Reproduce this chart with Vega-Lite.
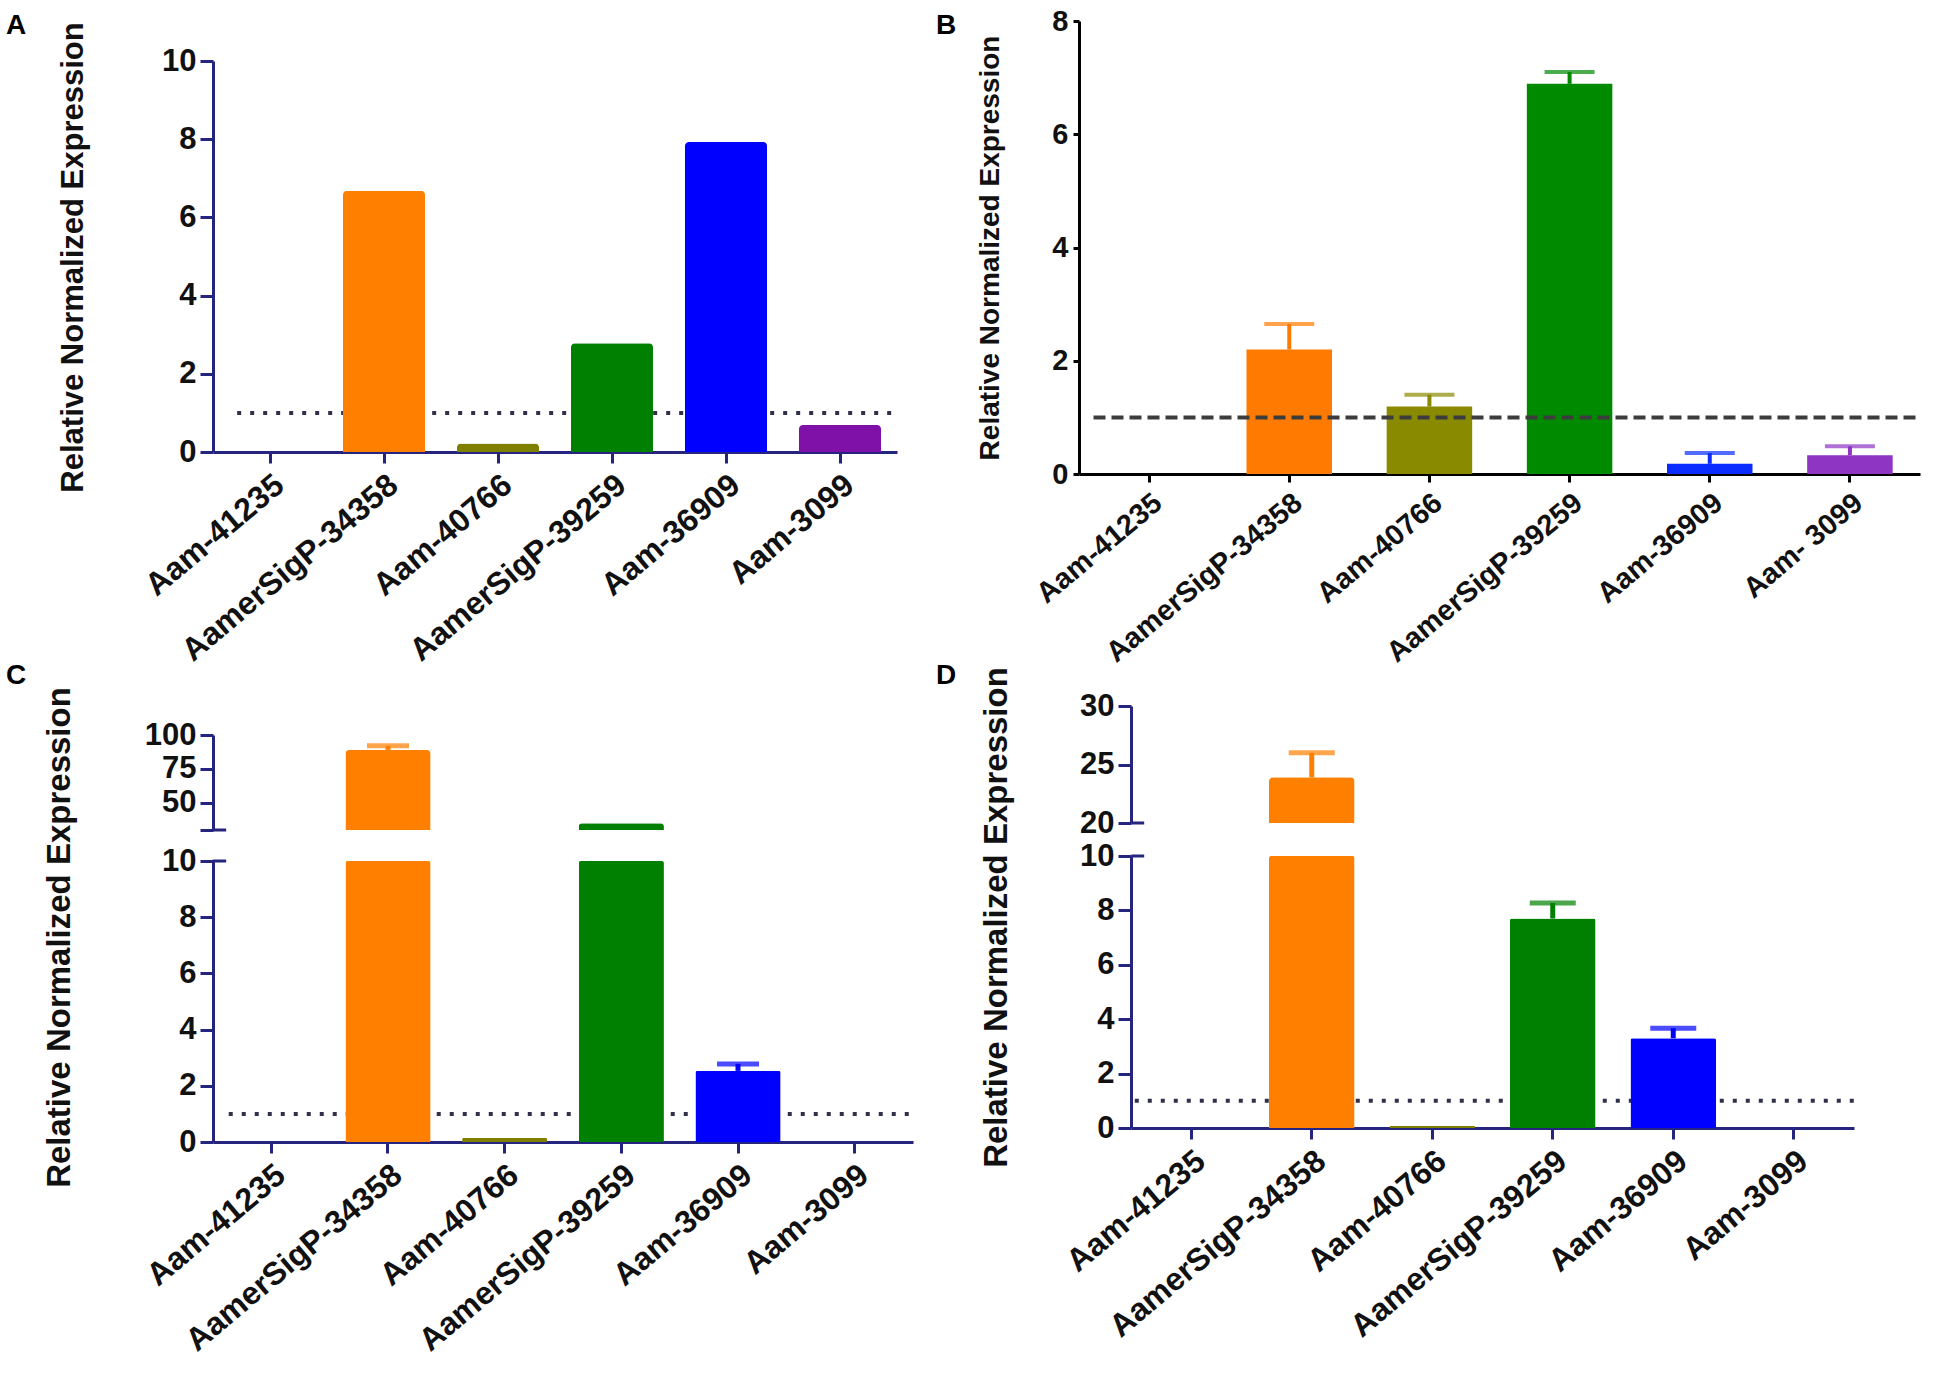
{
  "$schema": "https://vega.github.io/schema/vega-lite/v6.json",
  "padding": 0,
  "background": "#ffffff",
  "config": {
    "font": "Liberation Sans",
    "view": {"stroke": null},
    "axis": {
      "grid": false,
      "labelFont": "Liberation Sans",
      "titleFont": "Liberation Sans",
      "labelFontWeight": "bold",
      "titleFontWeight": "bold",
      "labelColor": "#111111",
      "titleColor": "#111111",
      "labelLimit": 500,
      "domainColor": "#25257f",
      "tickColor": "#25257f",
      "domainWidth": 3,
      "tickWidth": 3
    },
    "title": {"font": "Liberation Sans", "fontSize": 28, "fontWeight": "bold", "color": "#000000"}
  },
  "datasets": {
    "A": [
      {"gene": "Aam-41235", "v": 0},
      {"gene": "AamerSigP-34358", "v": 6.68},
      {"gene": "Aam-40766", "v": 0.22},
      {"gene": "AamerSigP-39259", "v": 2.78},
      {"gene": "Aam-36909", "v": 7.93},
      {"gene": "Aam-3099", "v": 0.69}
    ],
    "B": [
      {"gene": "Aam-41235", "v": 0, "e": null},
      {"gene": "AamerSigP-34358", "v": 2.2, "e": 2.65},
      {"gene": "Aam-40766", "v": 1.19, "e": 1.4},
      {"gene": "AamerSigP-39259", "v": 6.89, "e": 7.1},
      {"gene": "Aam-36909", "v": 0.18, "e": 0.37},
      {"gene": "Aam- 3099", "v": 0.33, "e": 0.49}
    ],
    "C": [
      {"gene": "Aam-41235", "v": 0, "e": null},
      {"gene": "AamerSigP-34358", "v": 89, "e": 92},
      {"gene": "Aam-40766", "v": 0.15, "e": null},
      {"gene": "AamerSigP-39259", "v": 35, "e": null},
      {"gene": "Aam-36909", "v": 2.53, "e": 2.78},
      {"gene": "Aam-3099", "v": 0, "e": null}
    ],
    "D": [
      {"gene": "Aam-41235", "v": 0, "e": null},
      {"gene": "AamerSigP-34358", "v": 23.9, "e": 26.0},
      {"gene": "Aam-40766", "v": 0.08, "e": null},
      {"gene": "AamerSigP-39259", "v": 7.7, "e": 8.27},
      {"gene": "Aam-36909", "v": 3.3, "e": 3.67},
      {"gene": "Aam-3099", "v": 0, "e": null}
    ]
  },
  "columns": 3,
  "align": "each",
  "bounds": "flush",
  "spacing": {"row": 0, "column": 166},
  "resolve": {"scale": {"color": "independent", "x": "independent", "y": "independent"}},
  "concat": [
    {"width": 47, "height": 21, "data": {"values": [{}]}, "mark": {"type": "point", "opacity": 0, "size": 1, "strokeWidth": 0},
     "title": {"text": "A", "orient": "top", "anchor": "start", "frame": "group", "baseline": "top", "offset": -40, "dx": 6}},
    {"width": 1, "height": 21, "data": {"values": []}, "mark": "point"},
    {"width": 1, "height": 21, "data": {"values": [{}]}, "mark": {"type": "point", "opacity": 0, "size": 1, "strokeWidth": 0},
     "title": {"text": "B", "orient": "top", "anchor": "start", "frame": "group", "baseline": "top", "offset": -40, "dx": -143}},

    {"width": 47, "height": 1, "data": {"values": []}, "mark": "point"},
    {
      "width": 684, "height": 431,
      "data": {"name": "A"},
      "layer": [
        {
          "data": {"values": [{"ref": 1}]},
          "mark": {"type": "rule", "strokeDash": [4, 9], "strokeWidth": 4, "color": "#30304a"},
          "encoding": {
            "x": {"datum": "Aam-41235", "bandPosition": 0.1},
            "x2": {"datum": "Aam-3099", "bandPosition": 1.2},
            "y": {"field": "ref", "type": "quantitative", "title": "Relative Normalized Expression"}
          }
        },
        {
          "mark": {"type": "bar", "cornerRadiusTopLeft": 4, "cornerRadiusTopRight": 4},
          "encoding": {
            "x": {"field": "gene", "type": "nominal", "sort": null,
              "scale": {"domain": ["Aam-41235", "AamerSigP-34358", "Aam-40766", "AamerSigP-39259", "Aam-36909", "Aam-3099"], "paddingInner": 0.28, "paddingOuter": 0.14},
              "axis": {"title": null, "labelAngle": -40, "labelFontSize": 32, "labelAlign": "right", "labelBaseline": "top", "tickSize": 11, "labelPadding": 6}},
            "y": {"field": "v", "type": "quantitative", "scale": {"domain": [0, 10], "range": [431, 40]},
              "axis": {"values": [0, 2, 4, 6, 8, 10], "format": "d", "labelFontSize": 31, "tickSize": 13, "labelPadding": 4,
                "title": "Relative Normalized Expression", "titleFontSize": 31, "titleX": -140, "titleY": 236, "titleBaseline": "middle"}},
            "color": {"field": "gene", "type": "nominal", "legend": null,
              "scale": {"domain": ["Aam-41235", "AamerSigP-34358", "Aam-40766", "AamerSigP-39259", "Aam-36909", "Aam-3099"],
                "range": ["#000000", "#ff8000", "#808000", "#008000", "#0000ff", "#7f10a8"]}}
          }
        }
      ]
    },
    {
      "width": 841, "height": 453,
      "data": {"name": "B"},
      "layer": [
        {
          "mark": {"type": "bar"},
          "encoding": {
            "x": {"field": "gene", "type": "nominal", "sort": null,
              "scale": {"domain": ["Aam-41235", "AamerSigP-34358", "Aam-40766", "AamerSigP-39259", "Aam-36909", "Aam- 3099"], "paddingInner": 0.39, "paddingOuter": 0.195},
              "axis": {"title": null, "labelAngle": -40, "labelFontSize": 29, "labelAlign": "right", "labelBaseline": "top", "tickSize": 8, "labelPadding": 6, "domainColor": "#000000", "tickColor": "#000000"}},
            "y": {"field": "v", "type": "quantitative", "scale": {"domain": [0, 8]},
              "axis": {"values": [0, 2, 4, 6, 8], "format": "d", "labelFontSize": 29, "tickSize": 6, "labelPadding": 5, "domainColor": "#000000", "tickColor": "#000000",
                "title": "Relative Normalized  Expression", "titleFontSize": 28, "titleX": -89, "titleBaseline": "middle"}},
            "color": {"field": "gene", "type": "nominal", "legend": null,
              "scale": {"domain": ["Aam-41235", "AamerSigP-34358", "Aam-40766", "AamerSigP-39259", "Aam-36909", "Aam- 3099"],
                "range": ["#000000", "#ff7a00", "#8a8a00", "#008a00", "#0a2cff", "#8e35c4"]}}
          }
        },
        {
          "transform": [{"filter": "datum.e != null"}],
          "mark": {"type": "rule", "strokeWidth": 4},
          "encoding": {
            "x": {"field": "gene", "type": "nominal", "sort": null},
            "y": {"field": "v", "type": "quantitative", "title": "Relative Normalized  Expression"},
            "y2": {"field": "e"},
            "color": {"field": "gene", "type": "nominal", "legend": null}
          }
        },
        {
          "transform": [{"filter": "datum.e != null"}],
          "mark": {"type": "tick", "size": 50, "thickness": 4},
          "encoding": {
            "x": {"field": "gene", "type": "nominal", "sort": null},
            "y": {"field": "e", "type": "quantitative", "title": "Relative Normalized  Expression"},
            "color": {"field": "gene", "type": "nominal", "legend": null}
          }
        },
        {
          "data": {"values": [{"ref": 1}]},
          "mark": {"type": "rule", "strokeDash": [12, 6], "strokeWidth": 4, "color": "#3c3c3c"},
          "encoding": {
            "x": {"datum": "Aam-41235", "bandPosition": -0.15},
            "x2": {"datum": "Aam- 3099", "bandPosition": 1.31},
            "y": {"field": "ref", "type": "quantitative", "title": "Relative Normalized  Expression"}
          }
        }
      ]
    },

    {"width": 47, "height": 232, "data": {"values": [{}]}, "mark": {"type": "point", "opacity": 0, "size": 1, "strokeWidth": 0},
     "title": {"text": "C", "orient": "top", "anchor": "start", "frame": "group", "baseline": "top", "offset": -216, "dx": 6}},
    {"width": 1, "height": 1, "data": {"values": []}, "mark": "point"},
    {"width": 1, "height": 232, "data": {"values": [{}]}, "mark": {"type": "point", "opacity": 0, "size": 1, "strokeWidth": 0},
     "title": {"text": "D", "orient": "top", "anchor": "start", "frame": "group", "baseline": "top", "offset": -216, "dx": -143}},

    {"width": 47, "height": 1, "data": {"values": []}, "mark": "point"},
    {
      "width": 700, "height": 124,
      "data": {"name": "C"},
      "layer": [
        {
          "mark": {"type": "bar", "cornerRadiusTopLeft": 4, "cornerRadiusTopRight": 4},
          "encoding": {
            "x": {"field": "gene", "type": "nominal", "sort": null,
              "scale": {"domain": ["Aam-41235", "AamerSigP-34358", "Aam-40766", "AamerSigP-39259", "Aam-36909", "Aam-3099"], "paddingInner": 0.27, "paddingOuter": 0.135}, "axis": null},
            "y": {"field": "v", "type": "quantitative", "scale": {"domain": [30, 100], "range": [124, 29], "clamp": true},
              "axis": {"values": [30, 50, 75, 100], "format": "d", "labelExpr": "datum.value == 30 ? '' : datum.label", "labelFontSize": 31, "tickSize": 13, "labelPadding": 4, "title": null}},
            "color": {"field": "gene", "type": "nominal", "legend": null,
              "scale": {"domain": ["Aam-41235", "AamerSigP-34358", "Aam-40766", "AamerSigP-39259", "Aam-36909", "Aam-3099"],
                "range": ["#000000", "#ff8000", "#808000", "#008000", "#0000ff", "#7f10a8"]}}
          }
        },
        {
          "transform": [{"filter": "datum.e != null && datum.e >= 30"}],
          "mark": {"type": "rule", "strokeWidth": 5},
          "encoding": {
            "x": {"field": "gene", "type": "nominal", "sort": null},
            "y": {"field": "v", "type": "quantitative", "title": null},
            "y2": {"field": "e"},
            "color": {"field": "gene", "type": "nominal", "legend": null}
          }
        },
        {
          "transform": [{"filter": "datum.e != null && datum.e >= 30"}],
          "mark": {"type": "tick", "size": 42, "thickness": 5},
          "encoding": {
            "x": {"field": "gene", "type": "nominal", "sort": null},
            "y": {"field": "e", "type": "quantitative", "title": null},
            "color": {"field": "gene", "type": "nominal", "legend": null}
          }
        },
        {
          "data": {"values": [{"brk": 30}]},
          "mark": {"type": "rule", "strokeWidth": 3, "color": "#25257f"},
          "encoding": {
            "x": {"datum": "Aam-41235", "bandPosition": -0.19},
            "x2": {"datum": "Aam-41235", "bandPosition": -0.03},
            "y": {"field": "brk", "type": "quantitative", "title": null}
          }
        }
      ]
    },
    {
      "width": 775, "height": 117,
      "data": {"name": "D"},
      "layer": [
        {
          "mark": {"type": "bar", "cornerRadiusTopLeft": 4, "cornerRadiusTopRight": 4},
          "encoding": {
            "x": {"field": "gene", "type": "nominal", "sort": null,
              "scale": {"domain": ["Aam-41235", "AamerSigP-34358", "Aam-40766", "AamerSigP-39259", "Aam-36909", "Aam-3099"], "paddingInner": 0.29, "paddingOuter": 0.145, "range": [52, 775]}, "axis": null},
            "y": {"field": "v", "type": "quantitative", "scale": {"domain": [20, 30], "clamp": true},
              "axis": {"values": [20, 25, 30], "format": "d", "labelFontSize": 31, "tickSize": 13, "labelPadding": 4, "offset": -52, "title": null}},
            "color": {"field": "gene", "type": "nominal", "legend": null,
              "scale": {"domain": ["Aam-41235", "AamerSigP-34358", "Aam-40766", "AamerSigP-39259", "Aam-36909", "Aam-3099"],
                "range": ["#000000", "#ff8000", "#808000", "#008000", "#0000ff", "#7f10a8"]}}
          }
        },
        {
          "transform": [{"filter": "datum.e != null && datum.e >= 20"}],
          "mark": {"type": "rule", "strokeWidth": 5},
          "encoding": {
            "x": {"field": "gene", "type": "nominal", "sort": null},
            "y": {"field": "v", "type": "quantitative", "title": null},
            "y2": {"field": "e"},
            "color": {"field": "gene", "type": "nominal", "legend": null}
          }
        },
        {
          "transform": [{"filter": "datum.e != null && datum.e >= 20"}],
          "mark": {"type": "tick", "size": 46, "thickness": 5},
          "encoding": {
            "x": {"field": "gene", "type": "nominal", "sort": null},
            "y": {"field": "e", "type": "quantitative", "title": null},
            "color": {"field": "gene", "type": "nominal", "legend": null}
          }
        },
        {
          "data": {"values": [{"brk": 20}]},
          "mark": {"type": "rule", "strokeWidth": 3, "color": "#25257f"},
          "encoding": {
            "x": {"datum": "Aam-41235", "bandPosition": -0.2},
            "x2": {"datum": "Aam-41235", "bandPosition": -0.05},
            "y": {"field": "brk", "type": "quantitative", "title": null}
          }
        }
      ]
    },

    {"width": 47, "height": 26, "data": {"values": []}, "mark": "point"},
    {"width": 1, "height": 26, "data": {"values": []}, "mark": "point"},
    {"width": 1, "height": 26, "data": {"values": []}, "mark": "point"},

    {"width": 47, "height": 1, "data": {"values": []}, "mark": "point"},
    {
      "width": 700, "height": 286,
      "data": {"name": "C"},
      "layer": [
        {
          "data": {"values": [{"ref": 1}]},
          "mark": {"type": "rule", "strokeDash": [4, 9], "strokeWidth": 4, "color": "#30304a"},
          "encoding": {
            "x": {"datum": "Aam-41235", "bandPosition": 0},
            "x2": {"datum": "Aam-3099", "bandPosition": 1.19},
            "y": {"field": "ref", "type": "quantitative", "title": "Relative Normalized Expression"}
          }
        },
        {
          "mark": {"type": "bar", "cornerRadiusTopLeft": 2, "cornerRadiusTopRight": 2},
          "encoding": {
            "x": {"field": "gene", "type": "nominal", "sort": null,
              "scale": {"domain": ["Aam-41235", "AamerSigP-34358", "Aam-40766", "AamerSigP-39259", "Aam-36909", "Aam-3099"], "paddingInner": 0.27, "paddingOuter": 0.135},
              "axis": {"title": null, "labelAngle": -40, "labelFontSize": 32, "labelAlign": "right", "labelBaseline": "top", "tickSize": 11, "labelPadding": 6}},
            "y": {"field": "v", "type": "quantitative", "scale": {"domain": [0, 10], "range": [286, 5], "clamp": true},
              "axis": {"values": [0, 2, 4, 6, 8, 10], "format": "d", "labelFontSize": 31, "tickSize": 13, "labelPadding": 4,
                "title": "Relative Normalized Expression", "titleFontSize": 33, "titleX": -154, "titleY": 81, "titleBaseline": "middle"}},
            "color": {"field": "gene", "type": "nominal", "legend": null,
              "scale": {"domain": ["Aam-41235", "AamerSigP-34358", "Aam-40766", "AamerSigP-39259", "Aam-36909", "Aam-3099"],
                "range": ["#000000", "#ff8000", "#808000", "#008000", "#0000ff", "#7f10a8"]}}
          }
        },
        {
          "transform": [{"filter": "datum.e != null && datum.e <= 10"}],
          "mark": {"type": "rule", "strokeWidth": 5},
          "encoding": {
            "x": {"field": "gene", "type": "nominal", "sort": null},
            "y": {"field": "v", "type": "quantitative", "title": "Relative Normalized Expression"},
            "y2": {"field": "e"},
            "color": {"field": "gene", "type": "nominal", "legend": null}
          }
        },
        {
          "transform": [{"filter": "datum.e != null && datum.e <= 10"}],
          "mark": {"type": "tick", "size": 42, "thickness": 5},
          "encoding": {
            "x": {"field": "gene", "type": "nominal", "sort": null},
            "y": {"field": "e", "type": "quantitative", "title": "Relative Normalized Expression"},
            "color": {"field": "gene", "type": "nominal", "legend": null}
          }
        },
        {
          "data": {"values": [{"brk": 10}]},
          "mark": {"type": "rule", "strokeWidth": 3, "color": "#25257f"},
          "encoding": {
            "x": {"datum": "Aam-41235", "bandPosition": -0.19},
            "x2": {"datum": "Aam-41235", "bandPosition": -0.03},
            "y": {"field": "brk", "type": "quantitative", "title": "Relative Normalized Expression"}
          }
        }
      ]
    },
    {
      "width": 775, "height": 272,
      "data": {"name": "D"},
      "layer": [
        {
          "data": {"values": [{"ref": 1}]},
          "mark": {"type": "rule", "strokeDash": [4, 9], "strokeWidth": 4, "color": "#30304a"},
          "encoding": {
            "x": {"datum": "Aam-41235", "bandPosition": -0.16},
            "x2": {"datum": "Aam-3099", "bandPosition": 1.23},
            "y": {"field": "ref", "type": "quantitative", "title": "Relative Normalized Expression"}
          }
        },
        {
          "mark": {"type": "bar", "cornerRadiusTopLeft": 2, "cornerRadiusTopRight": 2},
          "encoding": {
            "x": {"field": "gene", "type": "nominal", "sort": null,
              "scale": {"domain": ["Aam-41235", "AamerSigP-34358", "Aam-40766", "AamerSigP-39259", "Aam-36909", "Aam-3099"], "paddingInner": 0.29, "paddingOuter": 0.145, "range": [52, 775]},
              "axis": {"title": null, "labelAngle": -40, "labelFontSize": 32, "labelAlign": "right", "labelBaseline": "top", "tickSize": 11, "labelPadding": 6}},
            "y": {"field": "v", "type": "quantitative", "scale": {"domain": [0, 10], "clamp": true},
              "axis": {"values": [0, 2, 4, 6, 8, 10], "format": "d", "labelFontSize": 31, "tickSize": 13, "labelPadding": 4, "offset": -52,
                "title": "Relative Normalized Expression", "titleFontSize": 33, "titleX": -135, "titleY": 61, "titleBaseline": "middle"}},
            "color": {"field": "gene", "type": "nominal", "legend": null,
              "scale": {"domain": ["Aam-41235", "AamerSigP-34358", "Aam-40766", "AamerSigP-39259", "Aam-36909", "Aam-3099"],
                "range": ["#000000", "#ff8000", "#808000", "#008000", "#0000ff", "#7f10a8"]}}
          }
        },
        {
          "transform": [{"filter": "datum.e != null && datum.e <= 10"}],
          "mark": {"type": "rule", "strokeWidth": 5},
          "encoding": {
            "x": {"field": "gene", "type": "nominal", "sort": null},
            "y": {"field": "v", "type": "quantitative", "title": "Relative Normalized Expression"},
            "y2": {"field": "e"},
            "color": {"field": "gene", "type": "nominal", "legend": null}
          }
        },
        {
          "transform": [{"filter": "datum.e != null && datum.e <= 10"}],
          "mark": {"type": "tick", "size": 46, "thickness": 5},
          "encoding": {
            "x": {"field": "gene", "type": "nominal", "sort": null},
            "y": {"field": "e", "type": "quantitative", "title": "Relative Normalized Expression"},
            "color": {"field": "gene", "type": "nominal", "legend": null}
          }
        },
        {
          "data": {"values": [{"brk": 10}]},
          "mark": {"type": "rule", "strokeWidth": 3, "color": "#25257f"},
          "encoding": {
            "x": {"datum": "Aam-41235", "bandPosition": -0.2},
            "x2": {"datum": "Aam-41235", "bandPosition": -0.05},
            "y": {"field": "brk", "type": "quantitative", "title": "Relative Normalized Expression"}
          }
        }
      ]
    }
  ]
}
